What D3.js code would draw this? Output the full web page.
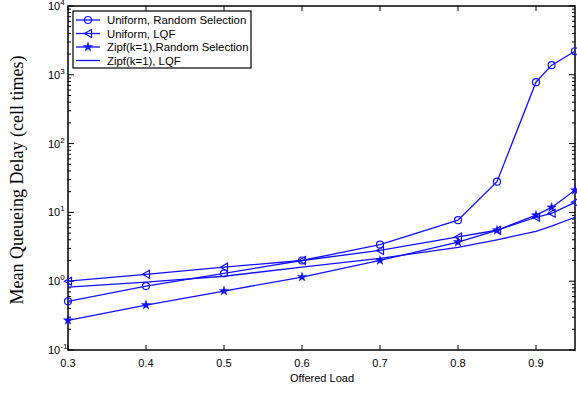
<!DOCTYPE html>
<html>
<head>
<meta charset="utf-8">
<script src="https://cdn.jsdelivr.net/npm/d3@7"></script>
<style>
body { margin: 0; background: #fff; }
text { font-family: "Liberation Sans", Arial, sans-serif; }
</style>
</head>
<body>
<svg id="chart" width="577" height="394"></svg>
<script>
// offered load values
var loads = [0.3, 0.4, 0.5, 0.6, 0.7, 0.8, 0.85, 0.9, 0.92, 0.95];

// mean queueing delay per series (cell times)
var uniformRandom = [0.51, 0.85, 1.3, 2.0, 3.4, 7.7, 28, 780, 1380, 2200];
var uniformLqf = [1.0, 1.26, 1.6, 2.0, 2.8, 4.4, 5.5, 8.5, 9.7, 14];
var zipfRandom = [0.27, 0.45, 0.72, 1.15, 2.0, 3.7, 5.5, 9.1, 11.8, 21];
var zipfLqf = [0.82, 0.97, 1.18, 1.6, 2.15, 3.1, 4.0, 5.3, 6.3, 8.5];

var seriesNames = ["Uniform, Random Selection", "Uniform, LQF", "Zipf(k=1),Random Selection", "Zipf(k=1), LQF"];
var seriesMarkers = ["circle", "triangle", "star", "none"];

var xTicks = [0.3, 0.4, 0.5, 0.6, 0.7, 0.8, 0.9];
var yExponents = [-1, 0, 1, 2, 3, 4];

var blue = "#1010ff";

var svg = d3.select("#chart");
var plotLeft = 68, plotRight = 575, plotTop = 6, plotBottom = 350;

var x = d3.scaleLinear().domain([0.3, 0.95]).range([plotLeft, plotRight]);
var y = d3.scaleLog().domain([0.1, 10000]).range([plotBottom, plotTop]);

var plot = svg.append("g");

// frame
plot.append("rect")
    .attr("x", plotLeft).attr("y", plotTop)
    .attr("width", plotRight - plotLeft).attr("height", plotBottom - plotTop)
    .attr("fill", "none").attr("stroke", "black").attr("stroke-width", 1.5);

// x ticks, inward on bottom and top
xTicks.forEach(function (t) {
    plot.append("line").attr("x1", x(t)).attr("x2", x(t))
        .attr("y1", plotBottom).attr("y2", plotBottom - 5).attr("stroke", "black");
    plot.append("line").attr("x1", x(t)).attr("x2", x(t))
        .attr("y1", plotTop).attr("y2", plotTop + 5).attr("stroke", "black");
    svg.append("text").attr("x", x(t)).attr("y", plotBottom + 17)
        .attr("text-anchor", "middle").attr("font-size", 11)
        .text(d3.format(".1f")(t));
});

// y ticks (log, with minor ticks) on left and right
var yTicks = y.ticks();
yTicks.forEach(function (t) {
    var major = Math.abs(Math.log10(t) - Math.round(Math.log10(t))) < 1e-9;
    var len = major ? 6 : 3;
    plot.append("line").attr("x1", plotLeft).attr("x2", plotLeft + len)
        .attr("y1", y(t)).attr("y2", y(t)).attr("stroke", "black");
    plot.append("line").attr("x1", plotRight).attr("x2", plotRight - len)
        .attr("y1", y(t)).attr("y2", y(t)).attr("stroke", "black");
});

yExponents.forEach(function (e) {
    var lab = svg.append("text").attr("x", 48).attr("y", y(Math.pow(10, e)) + 4)
        .attr("font-size", 11);
    lab.append("tspan").text("10");
    lab.append("tspan").attr("dy", -5).attr("font-size", 8).text(e);
});

// axis titles
svg.append("text").attr("x", 322).attr("y", 382)
    .attr("text-anchor", "middle").attr("font-size", 11).text("Offered Load");

svg.append("text")
    .attr("transform", "translate(23,180) rotate(-90)")
    .attr("text-anchor", "middle")
    .style("font-family", "'Liberation Serif', 'Times New Roman', serif")
    .attr("font-size", 18)
    .text("Mean Queueing Delay (cell times)");

// series
var allSeries = [uniformRandom, uniformLqf, zipfRandom, zipfLqf];
var line = d3.line()
    .x(function (d, i) { return x(loads[i]); })
    .y(function (d) { return y(d); });

function drawMarker(g, kind, cx, cy) {
    if (kind == "circle") {
        g.append("circle").attr("cx", cx).attr("cy", cy).attr("r", 3.5)
            .attr("fill", "none").attr("stroke", blue).attr("stroke-width", 1.2);
    } else if (kind == "triangle") {
        g.append("path")
            .attr("d", "M" + (cx - 3.5) + "," + cy + "L" + (cx + 3.5) + "," + (cy - 4) + "L" + (cx + 3.5) + "," + (cy + 4) + "Z")
            .attr("fill", "none").attr("stroke", blue).attr("stroke-width", 1.2);
    } else if (kind == "star") {
        g.append("path")
            .attr("d", d3.symbol().type(d3.symbolStar).size(26)())
            .attr("transform", "translate(" + cx + "," + cy + ")")
            .attr("fill", blue).attr("stroke", blue).attr("stroke-width", 0.5);
    }
}

allSeries.forEach(function (vals, s) {
    var g = plot.append("g");
    g.append("path").datum(vals).attr("d", line)
        .attr("fill", "none").attr("stroke", blue).attr("stroke-width", 1.3);
    vals.forEach(function (v, i) {
        drawMarker(g, seriesMarkers[s], x(loads[i]), y(v));
    });
});

// legend
var legend = svg.append("g");
legend.append("rect").attr("x", 73).attr("y", 11).attr("width", 178).attr("height", 57)
    .attr("fill", "white").attr("stroke", "black").attr("stroke-width", 1.2);
seriesNames.forEach(function (name, i) {
    var ly = 20 + i * 13.5;
    legend.append("line").attr("x1", 76).attr("x2", 100).attr("y1", ly).attr("y2", ly)
        .attr("stroke", blue).attr("stroke-width", 1.3);
    drawMarker(legend, seriesMarkers[i], 88, ly);
    legend.append("text").attr("x", 107).attr("y", ly + 4).attr("font-size", 11.4).text(name);
});
</script>
</body>
</html>
